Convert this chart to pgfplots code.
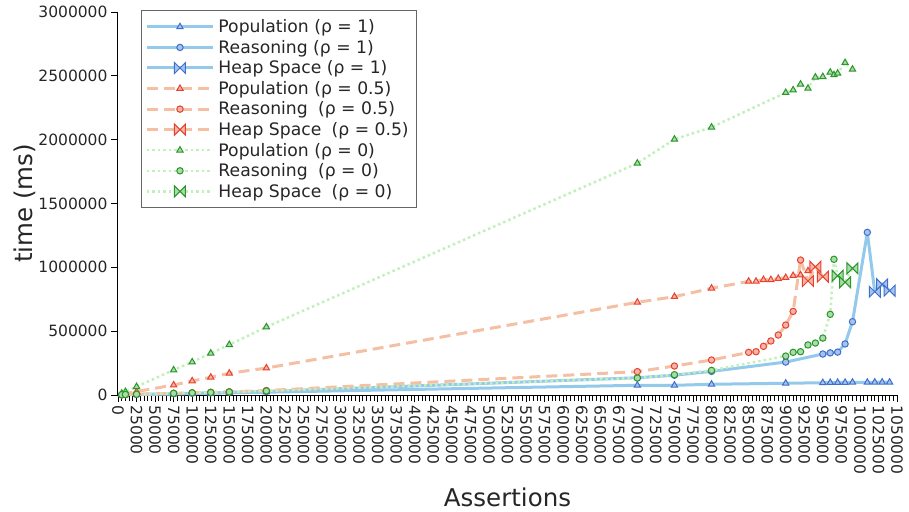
\documentclass[border=0pt]{standalone}
\usepackage{pgfplots}
\pgfplotsset{compat=1.18}
\usepackage{fontspec}
\setmainfont{DejaVu Sans}
\definecolor{lblue}{HTML}{93C9EA}
\definecolor{dblue}{HTML}{3D6FCC}
\definecolor{fblue}{HTML}{A9C2EC}
\definecolor{lred}{HTML}{F4BFA3}
\definecolor{dred}{HTML}{E8412C}
\definecolor{fred}{HTML}{F6B3A8}
\definecolor{lgreen}{HTML}{C2F0BC}
\definecolor{dgreen}{HTML}{2A952A}
\definecolor{fgreen}{HTML}{A8DCA8}
\pgfdeclareplotmark{bowtie}{%
  \pgfpathmoveto{\pgfqpoint{-\pgfplotmarksize}{-\pgfplotmarksize}}%
  \pgfpathlineto{\pgfqpoint{\pgfplotmarksize}{\pgfplotmarksize}}%
  \pgfpathlineto{\pgfqpoint{\pgfplotmarksize}{-\pgfplotmarksize}}%
  \pgfpathlineto{\pgfqpoint{-\pgfplotmarksize}{\pgfplotmarksize}}%
  \pgfpathclose
  \pgfusepathqfillstroke}
\pgfplotsset{
  sblue/.style={color=lblue, line width=3pt, solid, mark options={solid, draw=dblue, fill=fblue, line width=1pt}},
  sred/.style={color=lred, line width=3pt, dash pattern=on 11pt off 6pt, mark options={solid, draw=dred, fill=fred, line width=1pt}},
  sgreen/.style={color=lgreen, line width=2.5pt, dash pattern=on 2.5pt off 3pt, mark options={solid, draw=dgreen, fill=fgreen, line width=1pt}},
  pop/.style={mark=triangle*, mark size=3.6pt},
  rea/.style={mark=*, mark size=3.2pt},
  heap/.style={mark=bowtie, mark size=5.5pt},
}
\begin{document}
\begin{tikzpicture}
\useasboundingbox (-118pt,-116pt) rectangle (791pt,395pt);
\begin{axis}[
  scale only axis, width=779pt, height=383pt,
  xmin=0, xmax=1050000, ymin=0, ymax=3000000,
  axis lines*=left,
  axis line style={line width=1pt, black},
  tick align=outside,
  major tick length=7pt, minor tick length=6pt,
  every tick/.style={black, line width=0.8pt},
  xtick={0,25000,...,1050000}, minor x tick num=4,
  ytick={0,500000,...,3000000},
  scaled ticks=false,
  /pgf/number format/.cd, fixed, precision=0, 1000 sep={}, assume math mode=true, /pgfplots/.cd,
  ticklabel style={font=\fontsize{15.5}{18}\selectfont, text=black!85},
  xticklabel style={rotate=-90, anchor=west},
  xlabel={Assertions}, ylabel={time (ms)},
  every axis x label/.style={at={(axis description cs:0.5,0)}, yshift=-102pt, anchor=center, font=\fontsize{24.5}{28}\selectfont, text=black!85},
  every axis y label/.style={at={(axis description cs:0,0.5)}, xshift=-93pt, rotate=90, anchor=center, font=\fontsize{24.5}{28}\selectfont, text=black!85},
  legend image code/.code={\draw[mark repeat=2,mark phase=2] plot coordinates {(0pt,0pt) (33pt,0pt) (66pt,0pt)};},
  legend style={at={(rel axis cs:0.0295,1.005)}, anchor=north west, draw=black!60, line width=1pt,
    font=\fontsize{17.2}{20}\selectfont, text=black!85, inner xsep=4pt, inner ysep=7.5pt, row sep=3pt,
    nodes={inner xsep=4pt, inner ysep=1.5pt}},
  legend cell align=left,
]
% rho = 1
\addplot[sblue, pop] coordinates {(5000,1000) (10000,1500) (25000,3000) (75000,8000) (100000,11000) (125000,14000) (150000,17000) (200000,22000) (700000,76000) (750000,76000) (800000,84000) (900000,92000) (950000,96000) (960000,97000) (970000,98000) (980000,98000) (990000,99000) (1010000,99000) (1020000,100000) (1030000,100000) (1040000,100000)};
\addlegendentry{Population (ρ = 1)}
\addplot[sblue, rea] coordinates {(5000,2000) (10000,3000) (25000,5000) (75000,10000) (100000,14000) (125000,17000) (150000,21000) (200000,28000) (700000,135000) (750000,155000) (800000,185000) (900000,258000) (950000,321000) (960000,330000) (970000,336000) (980000,400000) (990000,574000) (1010000,1274000)};
\addlegendentry{Reasoning (ρ = 1)}
\addplot[sblue, forget plot] coordinates {(1010000,1274000) (1020000,809000)};
\addplot[sblue, heap] coordinates {(1020000,809000) (1030000,867000) (1040000,817000)};
\addlegendentry{Heap Space (ρ = 1)}
% rho = 0.5
\addplot[sred, pop] coordinates {(5000,5000) (10000,11000) (25000,27000) (75000,78000) (100000,110000) (125000,139000) (150000,170000) (200000,211000) (700000,726000) (750000,770000) (800000,836000) (850000,890000) (860000,890000) (870000,903000) (880000,903000) (890000,912000) (900000,919000) (910000,935000) (920000,940000) (930000,972000)};
\addlegendentry{Population (ρ = 0.5)}
\addplot[sred, rea] coordinates {(5000,2000) (10000,3000) (25000,6000) (75000,13000) (100000,17000) (125000,21000) (150000,25000) (200000,35000) (700000,183000) (750000,227000) (800000,274000) (850000,334000) (860000,339000) (870000,381000) (880000,423000) (890000,470000) (900000,548000) (910000,655000) (920000,1057000)};
\addlegendentry{Reasoning\hspace{0.6em}(ρ = 0.5)}
\addplot[sred, forget plot] coordinates {(920000,1057000) (930000,893000)};
\addplot[sred, heap] coordinates {(930000,893000) (940000,1005000) (950000,927000)};
\addlegendentry{Heap Space\hspace{0.6em}(ρ = 0.5)}
% rho = 0
\addplot[sgreen, pop] coordinates {(5000,13000) (10000,26000) (25000,65000) (75000,196000) (100000,258000) (125000,327000) (150000,394000) (200000,533000) (700000,1815000) (750000,2003000) (800000,2097000) (900000,2368000) (910000,2389000) (920000,2434000) (930000,2402000) (940000,2489000) (950000,2493000) (960000,2528000) (965000,2507000) (970000,2520000) (980000,2603000) (990000,2551000)};
\addlegendentry{Population (ρ = 0)}
\addplot[sgreen, rea] coordinates {(5000,2000) (10000,4000) (25000,6000) (75000,13000) (100000,17000) (125000,20000) (150000,24000) (200000,32000) (700000,133000) (750000,159000) (800000,193000) (900000,305000) (910000,334000) (920000,339000) (930000,392000) (940000,407000) (950000,446000) (960000,632000) (965000,1063000)};
\addlegendentry{Reasoning\hspace{0.6em}(ρ = 0)}
\addplot[sgreen, forget plot] coordinates {(965000,1063000) (970000,934000)};
\addplot[sgreen, heap] coordinates {(970000,934000) (980000,883000) (990000,992000)};
\addlegendentry{Heap Space\hspace{0.6em}(ρ = 0)}
\end{axis}
\end{tikzpicture}
\end{document}
